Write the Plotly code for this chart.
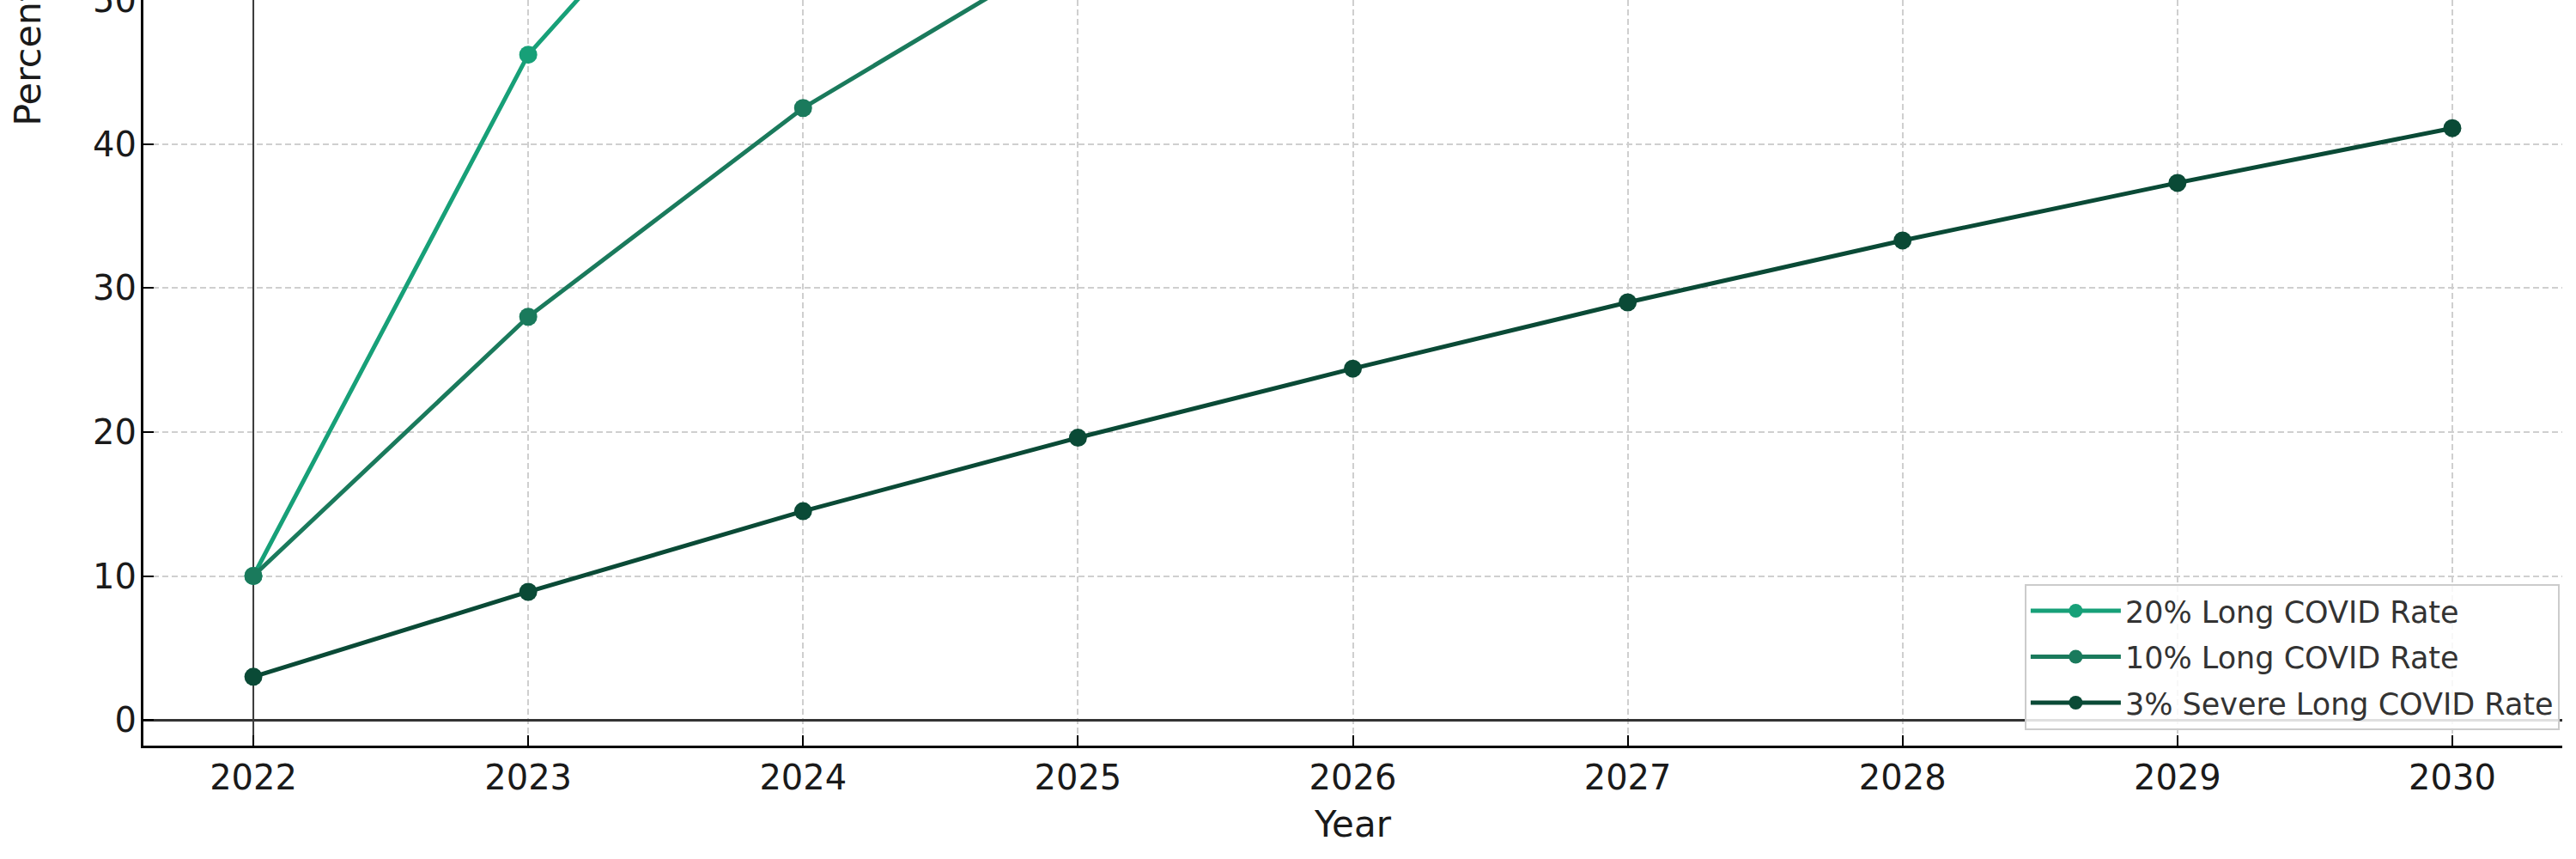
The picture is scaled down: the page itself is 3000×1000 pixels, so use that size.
import plotly.graph_objects as go

# ---- data ----
years = [2022, 2023, 2024, 2025, 2026, 2027, 2028, 2029, 2030]
rate_20 = [10.0, 46.2, 67.5, 80.5, 88.3, 93.0, 95.8, 97.5, 98.5]
rate_10 = [10.0, 28.0, 42.5, 53.9, 63.1, 70.5, 76.4, 81.1, 84.9]
severe_3 = [3.0, 8.9, 14.5, 19.6, 24.4, 29.0, 33.3, 37.3, 41.1]
series_names = ["20% Long COVID Rate", "10% Long COVID Rate", "3% Severe Long COVID Rate"]
y_ticks = [0, 10, 20, 30, 40, 50]
y_range = [-1.78, 50.0]
x_range = [2021.6, 2030.4]
x_title = "Year"
y_title = "Percentage (%)"

colors = ["#17a078", "#1a7a5c", "#0a4a36"]

fig = go.Figure()

# axvline at the first year (drawn first so markers sit on top)
fig.add_trace(go.Scatter(x=[years[0], years[0]], y=y_range, mode="lines",
                         line=dict(color="#3a3a3a", width=2), showlegend=False,
                         hoverinfo="skip"))

for i, (name, vals, col) in enumerate(zip(series_names, [rate_20, rate_10, severe_3], colors)):
    fig.add_trace(go.Scatter(
        x=years, y=vals, name=name, mode="lines+markers", legendgroup=f"g{i}",
        line=dict(color=col, width=5),
        marker=dict(color=col, size=21),
    ))

# y-axis title (the reference is cropped at the top)
fig.add_annotation(text=y_title, xref="paper", yref="paper", x=-0.0479, y=1.021,
                   textangle=-90, showarrow=False, xanchor="center", yanchor="middle",
                   font=dict(size=43, color="#1a1a1a"))

axis_common = dict(
    showgrid=True, gridcolor="#cfcfcf", griddash="7px,4px", gridwidth=1.5,
    showline=True, linecolor="black", linewidth=3,
    ticks="inside", ticklen=12, tickwidth=2, tickcolor="black",
    tickfont=dict(size=40, color="#1a1a1a"), ticklabeloverflow="allow",
    automargin=False,
)

fig.update_xaxes(range=x_range, tickvals=years, zeroline=False,
                 title=dict(text=x_title, font=dict(size=42, color="#1a1a1a"), standoff=18),
                 **axis_common)
fig.update_yaxes(range=y_range, tickvals=y_ticks, zeroline=True,
                 zerolinecolor="#333333", zerolinewidth=2.5, ticklabelstandoff=-3,
                 **axis_common)

fig.update_layout(
    width=3000, height=1000,
    margin=dict(l=167, r=16, t=0, b=132, autoexpand=False),
    plot_bgcolor="white", paper_bgcolor="white",
    font=dict(family="DejaVu Sans", color="#1a1a1a"),
    showlegend=True,
    legend=dict(x=0.9989, xanchor="right", y=0.021, yanchor="bottom",
                bgcolor="rgba(255,255,255,0.85)", bordercolor="#cccccc", borderwidth=2,
                font=dict(size=35, color="#333333"), itemwidth=105,
                tracegroupgap=5),
)

fig.write_html("out.html", config={"displayModeBar": False},
               post_script="document.body.style.margin='0';document.body.style.overflow='hidden';")
